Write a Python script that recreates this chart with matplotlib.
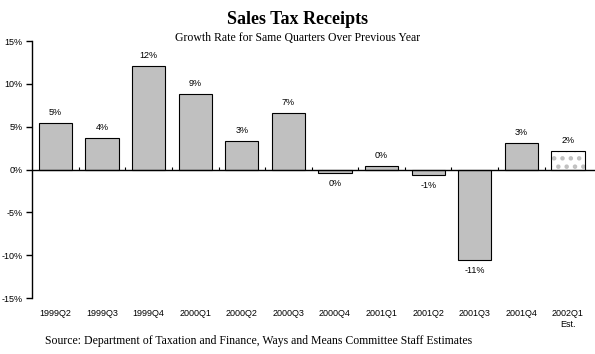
import matplotlib.pyplot as plt
import numpy as np

quarters = ['1999Q2', '1999Q3', '1999Q4', '2000Q1', '2000Q2', '2000Q3',
            '2000Q4', '2001Q1', '2001Q2', '2001Q3', '2001Q4', '2002Q1\nEst.']
growth = [5.4, 3.7, 12.1, 8.8, 3.3, 6.6, -0.4, 0.4, -0.6, -10.6, 3.1, 2.2]
estimated = [False] * 11 + [True]
yticks = [-15, -10, -5, 0, 5, 10, 15]

serif = ['Liberation Serif', 'DejaVu Serif']
sans = ['Liberation Sans', 'DejaVu Sans']

plt.rcParams['hatch.color'] = '#c0c0c0'
plt.rcParams['hatch.linewidth'] = 2.0

fig = plt.figure(figsize=(5.95, 3.54), dpi=100)
ax = fig.add_axes([0.054, 0.158, 0.946, 0.726])

x = np.arange(len(quarters))
width = 0.71
for xi, val, est in zip(x, growth, estimated):
    if est:
        ax.bar(xi, val, width, color='white', edgecolor='#c0c0c0', hatch='..', linewidth=0)
        ax.bar(xi, val, width, fill=False, edgecolor='black', linewidth=0.8)
    else:
        ax.bar(xi, val, width, color='#c0c0c0', edgecolor='black', linewidth=0.8)
    off = 0.7 if val >= 0 else -0.7
    ax.text(xi, val + off, f'{val:.0f}%'.replace('-0%', '0%'), ha='center',
            va='bottom' if val >= 0 else 'top', fontsize=6.5, family=sans)

ax.axhline(0, color='black', linewidth=1)
ax.vlines(x[:-1] + 0.5, 0, 0.3, color='black', linewidth=0.8)

ax.set_xlim(-0.5, len(quarters) - 0.42)
ax.set_ylim(-15, 15)
ax.set_yticks(yticks)
ax.set_yticklabels([f'{t}%' for t in yticks], fontsize=6.5, family=sans)
ax.set_xticks(x)
ax.set_xticklabels(quarters, fontsize=6.5, family=sans, va='top')
ax.tick_params(axis='x', length=0, pad=8)
ax.tick_params(axis='y', length=4, width=1, direction='out', pad=3)
for side in ['top', 'right', 'bottom']:
    ax.spines[side].set_visible(False)
ax.spines['left'].set_linewidth(1)

fig.text(0.5, 0.945, 'Sales Tax Receipts', ha='center', va='center',
         fontsize=13, fontweight='bold', family=serif)
fig.text(0.5, 0.893, 'Growth Rate for Same Quarters Over Previous Year', ha='center',
         va='center', fontsize=8.5, family=serif)
fig.text(0.075, 0.037, 'Source: Department of Taxation and Finance, Ways and Means Committee Staff Estimates',
         ha='left', va='center', fontsize=8.5, family=serif)

fig.savefig('out.png', dpi=100)
